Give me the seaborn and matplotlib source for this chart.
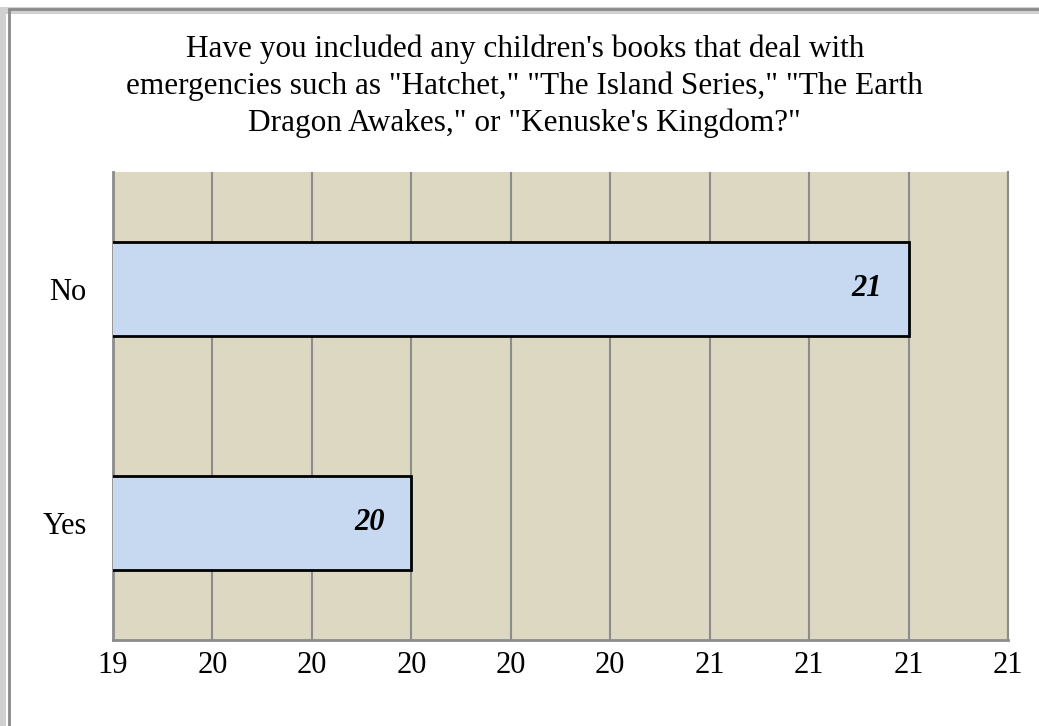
import matplotlib
matplotlib.use("Agg")
import matplotlib.pyplot as plt
import matplotlib.patches as mpatches
import numpy as np
import pandas as pd
import seaborn as sns

# Data
answers = ["No", "Yes"]
counts = [21, 20]
x_ticks = [19.4, 19.6, 19.8, 20.0, 20.2, 20.4, 20.6, 20.8, 21.0, 21.2]

title = ("Have you included any children's books that deal with\n"
         "emergencies such as \"Hatchet,\" \"The Island Series,\" \"The Earth\n"
         "Dragon Awakes,\" or \"Kenuske's Kingdom?\"")

df = pd.DataFrame({"answer": answers, "count": counts})

sns.set_style("white")
plt.rcParams["font.family"] = ["Liberation Serif", "DejaVu Serif"]
plt.rcParams["text.color"] = "black"
plt.rcParams["xtick.color"] = "black"
plt.rcParams["ytick.color"] = "black"

fig = plt.figure(figsize=(10.39, 7.26), dpi=100)
ax = fig.add_axes([0.1088, 0.1185, 0.8614, 0.6446])
ax.set_facecolor("#DDD8C2")

sns.barplot(data=df, x="count", y="answer", order=answers, orient="h",
            color="#C6D9F0", edgecolor="black", linewidth=2, width=0.4,
            saturation=1, ax=ax, zorder=3)

ax.set_xlim(x_ticks[0], x_ticks[-1])
ax.set_xticks(x_ticks)
ax.xaxis.set_major_formatter(plt.FuncFormatter(lambda v, p: f"{v:.0f}"))
ax.grid(axis="x", color="#8c8c8c", linewidth=1.5, zorder=0)
ax.set_axisbelow(True)
ax.tick_params(axis="both", length=0, labelsize=22)
ax.tick_params(axis="x", pad=8)
ax.tick_params(axis="y", pad=19)
ax.set_xlabel("")
ax.set_ylabel("")

ax.spines["top"].set_visible(False)
for s in ["left", "bottom", "right"]:
    ax.spines[s].set_color("#8c8c8c")
    ax.spines[s].set_linewidth(2 if s != "right" else 1.5)

# value labels at bar ends
for i, v in enumerate(counts):
    ax.annotate(str(v), xy=(v, i), xytext=(-19, 0), textcoords="offset points",
                ha="right", va="center", fontsize=22, fontweight="bold",
                fontstyle="italic", zorder=4)

fig.text(0.505, 0.952, title, ha="center", va="top", fontsize=22.5,
         linespacing=1.33)

# outer frame with a slight shadow
fig.patches.append(mpatches.Rectangle((0.002, -0.1), 1.2, 1.086,
                                      transform=fig.transFigure,
                                      facecolor="none", edgecolor="#d0d0d0",
                                      linewidth=5, zorder=0))
fig.patches.append(mpatches.Rectangle((0.009, -0.1), 1.2, 1.088,
                                      transform=fig.transFigure,
                                      facecolor="none", edgecolor="#8a8a8a",
                                      linewidth=2, zorder=1))

fig.savefig("out.png", dpi=100)
